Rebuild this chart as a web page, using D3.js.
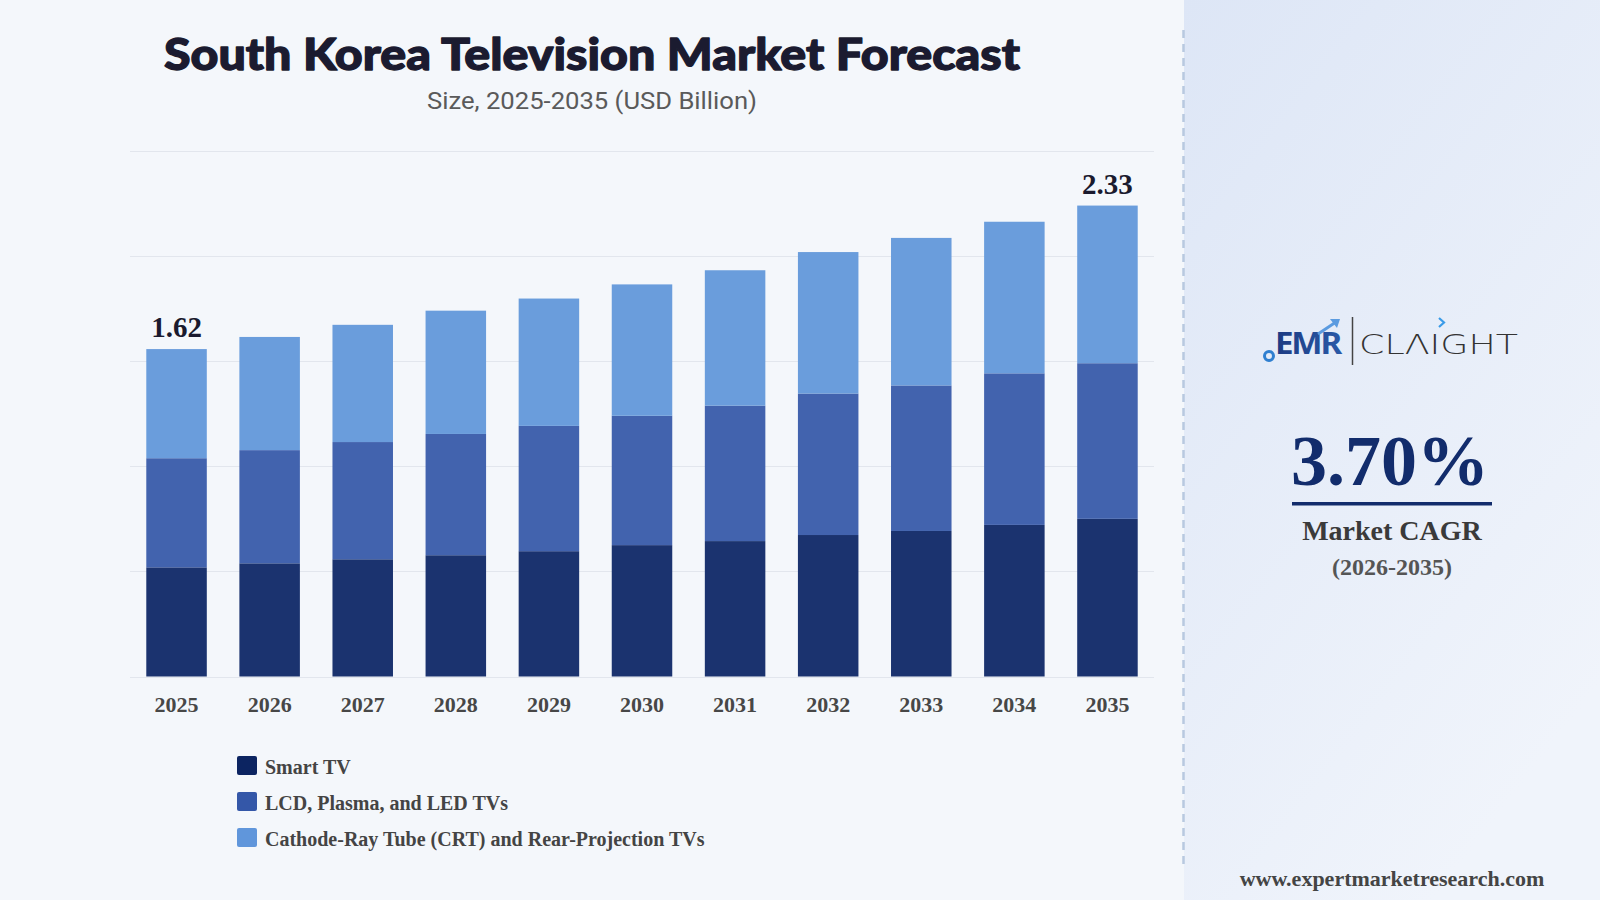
<!DOCTYPE html>
<html>
<head>
<meta charset="utf-8">
<script src="https://cdn.jsdelivr.net/npm/d3@7"></script>
<style>
  html, body { margin: 0; padding: 0; background: #f4f7fb; }
  svg { display: block; }
</style>
</head>
<body>
<svg id="chart"></svg>
<script>
const years = ["2025", "2026", "2027", "2028", "2029", "2030", "2031", "2032", "2033", "2034", "2035"];
const smartTV = [0.54, 0.56, 0.58, 0.60, 0.62, 0.65, 0.67, 0.70, 0.72, 0.75, 0.78];
const lcdTV   = [0.54, 0.56, 0.58, 0.60, 0.62, 0.64, 0.67, 0.70, 0.72, 0.75, 0.77];
const crtTV   = [0.54, 0.56, 0.58, 0.61, 0.63, 0.65, 0.67, 0.70, 0.73, 0.75, 0.78];
const seriesKeys = ["Smart TV", "LCD, Plasma, and LED TVs", "Cathode-Ray Tube (CRT) and Rear-Projection TVs"];
const yMax = 2.6;
const gridCount = 5;
const cagr = "3.70%";
const cagrPeriod = "(2026-2035)";

const barColors = { "Smart TV": "#1b336f", "LCD, Plasma, and LED TVs": "#4263ae", "Cathode-Ray Tube (CRT) and Rear-Projection TVs": "#6a9ddc" };
const legendColors = { "Smart TV": "#0c2461", "LCD, Plasma, and LED TVs": "#3457a8", "Cathode-Ray Tube (CRT) and Rear-Projection TVs": "#6096db" };

const rows = years.map((y, i) => ({
  year: y,
  "Smart TV": smartTV[i],
  "LCD, Plasma, and LED TVs": lcdTV[i],
  "Cathode-Ray Tube (CRT) and Rear-Projection TVs": crtTV[i]
}));

const W = 1600, H = 900;
const svg = d3.select("#chart").attr("width", W).attr("height", H);
const serif = "'Liberation Serif', 'Times New Roman', serif";

// backgrounds
const defs = svg.append("defs");
const grad = defs.append("linearGradient").attr("id", "panelGrad")
  .attr("x1", "0").attr("y1", "0").attr("x2", "0.6").attr("y2", "1");
grad.append("stop").attr("offset", "0").attr("stop-color", "#dde6f6");
grad.append("stop").attr("offset", "1").attr("stop-color", "#f0f4fb");
const emrGrad = defs.append("linearGradient").attr("id", "emrGrad")
  .attr("x1", "0").attr("y1", "0").attr("x2", "1").attr("y2", "0");
emrGrad.append("stop").attr("offset", "0").attr("stop-color", "#1c3a82");
emrGrad.append("stop").attr("offset", "1").attr("stop-color", "#2a5aa8");

svg.append("rect").attr("width", W).attr("height", H).attr("fill", "#f4f7fb");
svg.append("rect").attr("x", 1184).attr("y", 0).attr("width", W - 1184).attr("height", H)
  .attr("fill", "url(#panelGrad)");
svg.append("line").attr("x1", 1183.5).attr("x2", 1183.5).attr("y1", 30).attr("y2", 866)
  .attr("stroke", "#b8c9e0").attr("stroke-width", 2.5).attr("stroke-dasharray", "8,6");

// title (stroke thickens it toward the heavy weight of the original)
svg.append("text").attr("x", 592).attr("y", 70).attr("text-anchor", "middle")
  .attr("font-family", "Lato, Roboto, 'Noto Sans', sans-serif").attr("font-weight", 900)
  .attr("font-size", 44).attr("fill", "#1b1b30")
  .attr("stroke", "#1b1b30").attr("stroke-width", 1.3).attr("stroke-linejoin", "round")
  .attr("textLength", 856).attr("lengthAdjust", "spacingAndGlyphs")
  .text("South Korea Television Market Forecast");
svg.append("text").attr("x", 592).attr("y", 109).attr("text-anchor", "middle")
  .attr("font-family", "Roboto, 'Open Sans', sans-serif")
  .attr("font-size", 23).attr("fill", "#5a5a5a")
  .attr("textLength", 330).attr("lengthAdjust", "spacingAndGlyphs")
  .text("Size, 2025-2035 (USD Billion)");

// scales
const x = d3.scaleBand().domain(years).range([130, 1154]).paddingInner(0.35).paddingOuter(0.175);
const y = d3.scaleLinear().domain([0, yMax]).range([676.5, 151]);

// gridlines
const gridVals = d3.range(gridCount + 1).map(i => yMax * i / gridCount);
svg.append("g").selectAll("line").data(gridVals).join("line")
  .attr("x1", 130).attr("x2", 1154)
  .attr("y1", d => Math.round(y(d)) + 0.5).attr("y2", d => Math.round(y(d)) + 0.5)
  .attr("stroke", "#e2e6ed").attr("stroke-width", 1);

// stacked bars
const layers = d3.stack().keys(seriesKeys)(rows);
svg.append("g").selectAll("g").data(layers).join("g")
  .attr("fill", d => barColors[d.key])
  .selectAll("rect").data(d => d).join("rect")
  .attr("x", d => x(d.data.year))
  .attr("width", x.bandwidth())
  .attr("y", d => y(d[1]))
  .attr("height", d => y(d[0]) - y(d[1]));

// total labels on first and last bar
const totals = rows.map(r => d3.sum(seriesKeys, k => r[k]));
const labelIdx = [0, years.length - 1];
svg.append("g").selectAll("text").data(labelIdx).join("text")
  .attr("x", i => x(years[i]) + x.bandwidth() / 2)
  .attr("y", i => y(totals[i]) - 12)
  .attr("text-anchor", "middle")
  .attr("font-family", serif)
  .attr("font-weight", "bold").attr("font-size", 29).attr("fill", "#1a1a2e")
  .text(i => totals[i].toFixed(2));

// x axis
const xAxis = svg.append("g").attr("transform", "translate(0,676.5)")
  .call(d3.axisBottom(x).tickSize(0).tickPadding(35));
xAxis.select(".domain").remove();
xAxis.selectAll("text")
  .attr("font-family", serif)
  .attr("font-weight", "bold").attr("font-size", 22).attr("fill", "#474747")
  .attr("dy", 0);

// legend
const legend = svg.append("g").attr("transform", "translate(237,756)");
const li = legend.selectAll("g").data(seriesKeys).join("g")
  .attr("transform", (d, i) => `translate(0,${i * 36})`);
li.append("rect").attr("width", 20).attr("height", 19).attr("rx", 2)
  .attr("fill", d => legendColors[d]);
li.append("text").attr("x", 28).attr("y", 18)
  .attr("font-family", serif)
  .attr("font-weight", "bold").attr("font-size", 20).attr("fill", "#444")
  .text(d => d);

// right panel: logo
const logo = svg.append("g");
logo.append("circle").attr("cx", 1269).attr("cy", 356).attr("r", 4.5)
  .attr("fill", "none").attr("stroke", "#2f7fd0").attr("stroke-width", 3);
logo.append("text").attr("x", 1275).attr("y", 353.5)
  .attr("font-family", "'Noto Sans', Roboto, sans-serif").attr("font-weight", "bold")
  .attr("font-size", 30).attr("letter-spacing", -2).attr("fill", "url(#emrGrad)")
  .attr("textLength", 65).attr("lengthAdjust", "spacingAndGlyphs")
  .text("EMR");
logo.append("path").attr("d", "M1318,334 L1336,322")
  .attr("stroke", "#5b9be0").attr("stroke-width", 3).attr("fill", "none");
logo.append("path").attr("d", "M1330,319 L1340,319 L1337,328 Z").attr("fill", "#5b9be0");
logo.append("line").attr("x1", 1352.5).attr("x2", 1352.5).attr("y1", 317).attr("y2", 365)
  .attr("stroke", "#444").attr("stroke-width", 1.5);
logo.append("text").attr("x", 1359).attr("y", 353.5)
  .attr("font-family", "'DejaVu Sans', sans-serif").attr("font-weight", 300)
  .attr("font-size", 27).attr("fill", "#333")
  .attr("textLength", 159).attr("lengthAdjust", "spacingAndGlyphs")
  .text("CLΛIGHT");
logo.append("path").attr("d", "M1439,318 L1444,322.5 L1439,327")
  .attr("stroke", "#3a9be8").attr("stroke-width", 2.2).attr("fill", "none");

// CAGR block
svg.append("text").attr("x", 1390).attr("y", 485).attr("text-anchor", "middle")
  .attr("font-family", serif)
  .attr("font-weight", "bold").attr("font-size", 72).attr("fill", "#122c6c")
  .text(cagr);
svg.append("rect").attr("x", 1292).attr("y", 502).attr("width", 200).attr("height", 3.5)
  .attr("fill", "#122c6c");
svg.append("text").attr("x", 1392).attr("y", 540).attr("text-anchor", "middle")
  .attr("font-family", serif)
  .attr("font-weight", "bold").attr("font-size", 28).attr("fill", "#3a3a3a")
  .text("Market CAGR");
svg.append("text").attr("x", 1392).attr("y", 575).attr("text-anchor", "middle")
  .attr("font-family", serif)
  .attr("font-weight", "bold").attr("font-size", 24).attr("fill", "#555")
  .text(cagrPeriod);

// footer
svg.append("text").attr("x", 1392).attr("y", 886).attr("text-anchor", "middle")
  .attr("font-family", serif)
  .attr("font-weight", "bold").attr("font-size", 22).attr("fill", "#444")
  .text("www.expertmarketresearch.com");
</script>
</body>
</html>
